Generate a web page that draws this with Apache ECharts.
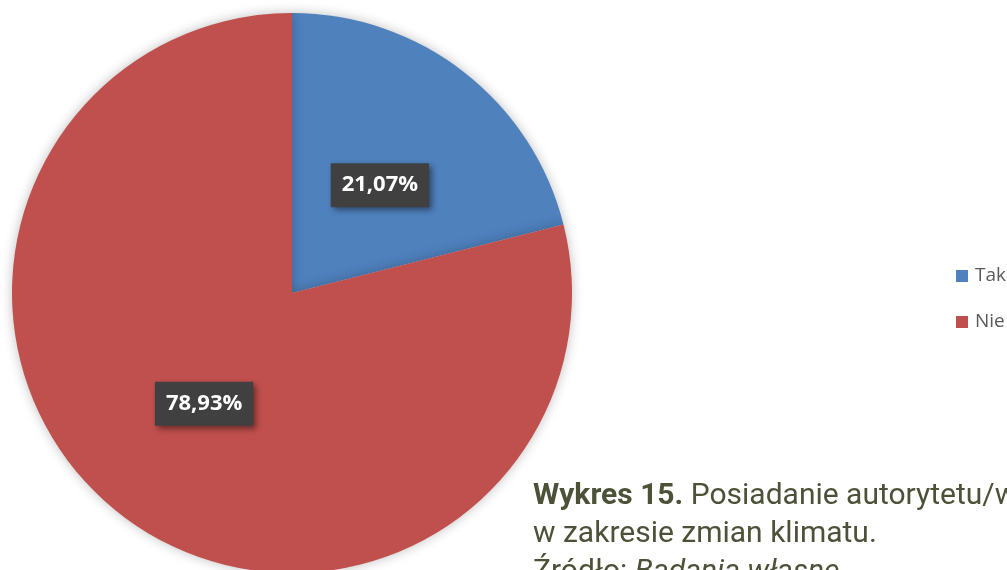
<!DOCTYPE html>
<html>
<head>
<meta charset="utf-8">
<script src="https://cdn.jsdelivr.net/npm/echarts@6/dist/echarts.min.js"></script>
<style>
  html, body { margin: 0; padding: 0; background: #ffffff; }
  #chart { width: 1007px; height: 570px; }
</style>
</head>
<body>
<div id="chart"></div>
<script>
  // dane wykresu
  var categories = ['Tak', 'Nie'];
  var values = [21.07, 78.93];
  var colors = ['#4f81bd', '#c0504d'];
  // drobne przesunięcie etykiet, jak w oryginale
  var labelOffsets = [[0, 5], [0, -2]];

  var chart = echarts.init(document.getElementById('chart'));

  var pieData = categories.map(function (name, i) {
    return {
      name: name,
      value: values[i],
      itemStyle: { color: colors[i] },
      label: { offset: labelOffsets[i] }
    };
  });

  var option = {
    backgroundColor: '#ffffff',
    animation: false,
    legend: {
      orient: 'vertical',
      left: 951,
      top: 261,
      itemWidth: 12,
      itemHeight: 12,
      itemGap: 26,
      icon: 'rect',
      data: categories,
      textStyle: {
        fontFamily: 'Open Sans',
        fontSize: 19,
        lineHeight: 20,
        color: '#595959',
        padding: [0, 0, 0, 2]
      }
    },
    series: [{
      type: 'pie',
      center: [292, 293],
      radius: [0, 280],
      startAngle: 90,
      clockwise: true,
      data: pieData,
      itemStyle: {
        borderWidth: 0,
        shadowBlur: 12,
        shadowColor: 'rgba(0,0,0,0.25)'
      },
      label: {
        show: true,
        position: 'inside',
        formatter: function (p) {
          return p.value.toFixed(2).replace('.', ',') + '%';
        },
        fontFamily: 'Open Sans',
        fontWeight: 'bold',
        fontSize: 22,
        lineHeight: 22,
        color: '#ffffff',
        backgroundColor: '#404040',
        padding: [11, 11, 11, 11],
        shadowBlur: 6,
        shadowOffsetX: 3,
        shadowOffsetY: 3,
        shadowColor: 'rgba(0,0,0,0.45)'
      },
      labelLine: { show: false },
      emphasis: { disabled: true }
    }],
    graphic: [{
      type: 'text',
      left: 533,
      top: 477,
      style: {
        text: '{b|Wykres 15.} Posiadanie autorytetu/wiedzy\nw zakresie zmian klimatu.\nŹródło: {i|Badania własne}',
        font: '30px Roboto',
        fill: '#4b5237',
        lineHeight: 38,
        rich: {
          b: { fontFamily: 'Roboto', fontSize: 30, fontWeight: 'bold', fill: '#4b5237', lineHeight: 38 },
          i: { fontFamily: 'Roboto', fontSize: 30, fontStyle: 'italic', fill: '#4b5237', lineHeight: 38 }
        }
      }
    }]
  };

  chart.setOption(option);
</script>
</body>
</html>
